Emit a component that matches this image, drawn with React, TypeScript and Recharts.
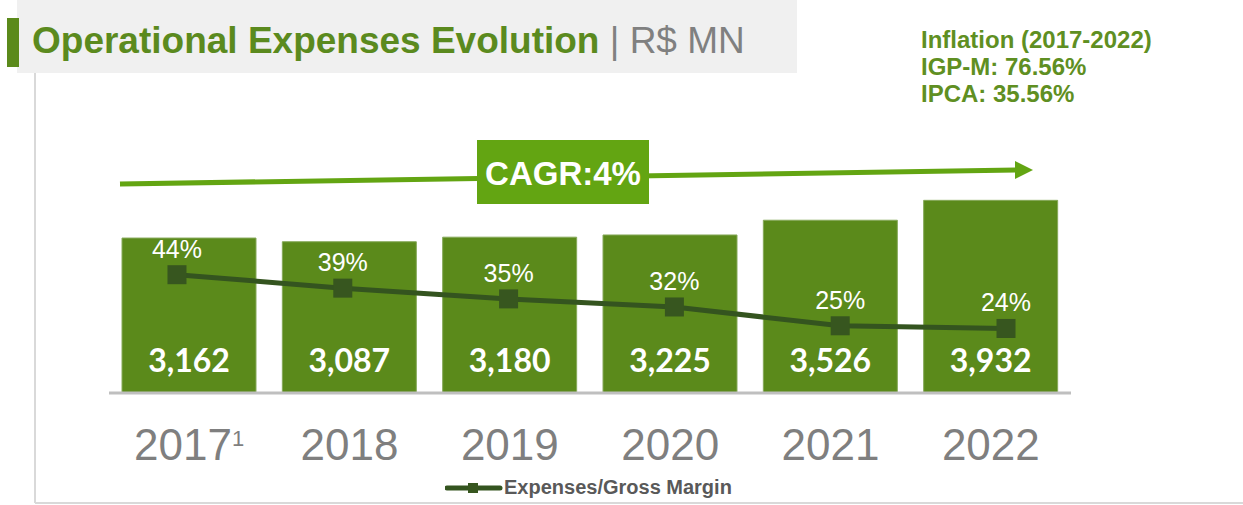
import React from "react";
import {
  ComposedChart,
  Bar,
  Line,
  XAxis,
  YAxis,
  Legend,
  LabelList,
} from "recharts";

const years = ["2017¹", "2018", "2019", "2020", "2021", "2022"];
const expenses = [3162, 3087, 3180, 3225, 3526, 3932];
const expenseRatio = [44, 39, 35, 32, 25, 24];
const inflationNotes = ["Inflation (2017-2022)", "IGP-M: 76.56%", "IPCA: 35.56%"];
const cagrLabel = "CAGR:4%";

const data = years.map((year, i) => ({
  year,
  idx: i,
  expenses: expenses[i],
  ratio: expenseRatio[i],
}));

const ARIAL = "'Liberation Sans', Arial, sans-serif";
const BAR_GREEN = "#5b8a1b";
const DARK_GREEN = "#34541f";
const BRIGHT_GREEN = "#63a512";

// footnote mark "¹" is drawn as a raised small "1"
const YearTick = (props: any) => {
  const { x, y, payload } = props;
  const label = String(payload.value);
  const hasNote = label.endsWith("¹");
  const main = hasNote ? label.slice(0, -1) : label;
  return (
    <text x={x} y={y} dy={67} textAnchor="middle" fill="#7f7f7f" fontSize={44} fontFamily={ARIAL}>
      {main}
      {hasNote && (
        <tspan fontSize={22} dy={-14}>
          1
        </tspan>
      )}
    </text>
  );
};

const SquareDot = (props: any) => {
  const { cx, cy, index } = props;
  return <rect key={`dot-${index}`} x={cx - 9.5} y={cy - 9.5} width={19} height={19} fill="#37561f" />;
};

const BarValue = (props: any) => {
  const { x, y, width, height, value } = props;
  return (
    <text
      x={x + width / 2}
      y={y + height - 21}
      textAnchor="middle"
      fill="#fff"
      fontSize={32}
      fontWeight="bold"
      fontFamily="Lato, 'Open Sans', sans-serif"
    >
      {Number(value).toLocaleString("en-US")}
    </text>
  );
};

const RatioValue = (props: any) => {
  const { x, y, value } = props;
  return (
    <text x={x} y={y - 17} textAnchor="middle" fill="#fff" fontSize={25} fontFamily={ARIAL}>
      {value}%
    </text>
  );
};

const renderLegend = (props: any) => {
  const items = (props.payload || []).filter((p: any) => p.type !== "none");
  return (
    <div style={{ display: "flex", alignItems: "center" }}>
      {items.map((item: any) => (
        <div key={item.value} style={{ display: "flex", alignItems: "center" }}>
          <svg width={59} height={14} style={{ display: "block" }}>
            <line x1={2} y1={7} x2={55} y2={7} stroke={DARK_GREEN} strokeWidth={5} strokeLinecap="round" />
            <rect x={23} y={2} width={10} height={10} fill="#37561f" />
          </svg>
          <span style={{ fontFamily: ARIAL, fontWeight: "bold", fontSize: 20, color: "#595959" }}>
            {item.value}
          </span>
        </div>
      ))}
    </div>
  );
};

export default function App() {
  return (
    <div style={{ position: "absolute", left: 0, top: 0, width: 1243, height: 505, background: "#fff" }}>
      <svg width={1243} height={505} style={{ position: "absolute", left: 0, top: 0 }}>
        {/* frame */}
        <line x1={35} y1={73} x2={35} y2={503} stroke="#d9d9d9" strokeWidth={2} />
        <line x1={35} y1={503} x2={1243} y2={503} stroke="#d9d9d9" strokeWidth={2} />
        {/* title */}
        <rect x={17} y={0} width={780} height={73} fill="#f0f0f0" />
        <rect x={7} y={18} width={12} height={49} fill={BAR_GREEN} />
        <text x={32} y={53} fontFamily={ARIAL} fontSize={37}>
          <tspan fill="#5b8a1e" fontWeight="bold">Operational Expenses Evolution</tspan>
          <tspan fill="#808080"> | R$ MN</tspan>
        </text>
        {/* inflation note */}
        {inflationNotes.map((t, i) => (
          <text key={t} x={921} y={48 + i * 27} fontFamily={ARIAL} fontSize={24} fontWeight="bold" fill="#5f8f22">
            {t}
          </text>
        ))}
        {/* CAGR arrow */}
        <line x1={120} y1={184} x2={1016} y2={170} stroke={BRIGHT_GREEN} strokeWidth={5} />
        <polygon points="1033,170 1015,161 1015,179" fill={BRIGHT_GREEN} />
        <rect x={477} y={140} width={172} height={64} fill={BRIGHT_GREEN} />
        <text x={563} y={185} textAnchor="middle" fontFamily={ARIAL} fontSize={33} fontWeight="bold" fill="#fff">
          {cagrLabel}
        </text>
      </svg>
      <div style={{ position: "absolute", left: 0, top: 0 }}>
        <ComposedChart
          width={1243}
          height={505}
          data={data}
          margin={{ top: 197, right: 172, bottom: 52, left: 109 }}
        >
          <XAxis
            xAxisId="cat"
            dataKey="year"
            height={60}
            tickLine={false}
            tickSize={0}
            tickMargin={0}
            axisLine={{ stroke: "#bfbfbf", strokeWidth: 3 }}
            tick={<YearTick />}
            interval={0}
          />
          <XAxis xAxisId="line" dataKey="idx" type="number" domain={[-0.41, 5.392]} hide />
          <YAxis yAxisId="exp" domain={[0, 4000]} hide />
          <YAxis yAxisId="ratio" domain={[0, 72.9]} hide />
          <Bar
            xAxisId="cat"
            yAxisId="exp"
            dataKey="expenses"
            barSize={134}
            fill={BAR_GREEN}
            stroke="#86a95a"
            strokeWidth={1}
            legendType="none"
            isAnimationActive={false}
          >
            <LabelList dataKey="expenses" content={<BarValue />} />
          </Bar>
          <Line
            xAxisId="line"
            yAxisId="ratio"
            dataKey="ratio"
            name="Expenses/Gross Margin"
            stroke={DARK_GREEN}
            strokeWidth={5}
            dot={<SquareDot />}
            activeDot={false}
            isAnimationActive={false}
          >
            <LabelList dataKey="ratio" content={<RatioValue />} />
          </Line>
          <Legend
            verticalAlign="middle"
            align="center"
            layout="horizontal"
            wrapperStyle={{ top: 476, left: 445, width: 340 }}
            content={renderLegend}
          />
        </ComposedChart>
      </div>
    </div>
  );
}
